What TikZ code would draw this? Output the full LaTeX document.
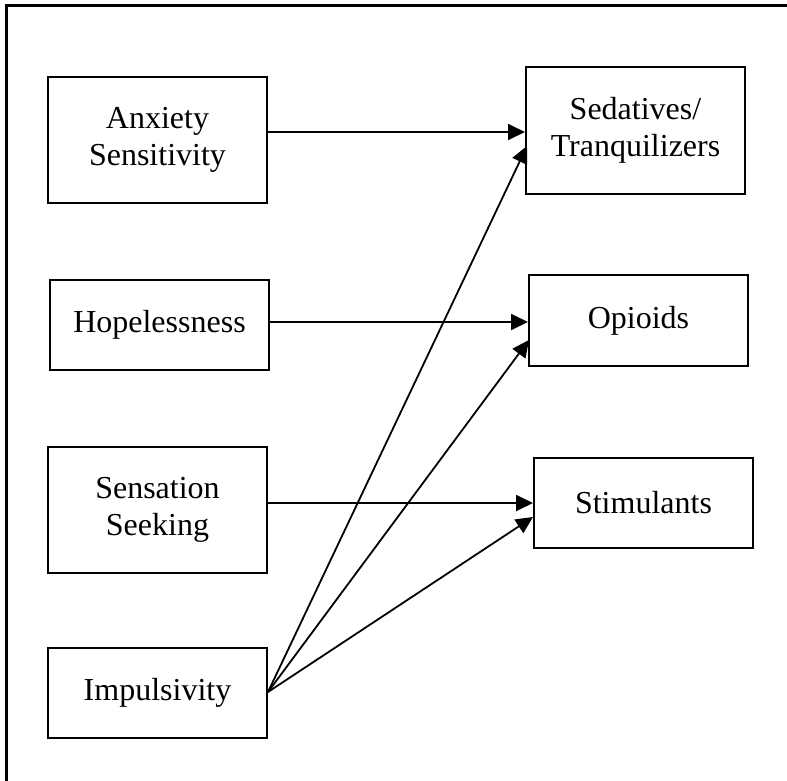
\documentclass[tikz,border=0pt]{standalone}
\usepackage{fontspec}
\setmainfont{Liberation Serif}
\usetikzlibrary{arrows.meta}
\begin{document}
\begin{tikzpicture}[x=1pt,y=-1pt,
  var/.style={draw, line width=2pt, rectangle, minimum width=219pt, inner sep=0pt,
    align=center, font=\fontsize{32}{37}\selectfont},
  link/.style={line width=1.8pt, -{Triangle[length=17pt,width=16pt]}}]
\useasboundingbox (0,0) rectangle (787,780);
% outer frame, running off the right and bottom edges
\draw[line width=3pt] (6,5) rectangle (800,800);

% predictors
\node[var, minimum height=126pt] (anx) at (157.5,140) {Anxiety\\Sensitivity};
\node[var, minimum height=90pt]  (hop) at (159.5,325) {Hopelessness};
\node[var, minimum height=126pt] (sen) at (157.5,510) {Sensation\\Seeking};
\node[var, minimum height=90pt]  (imp) at (157.5,693) {Impulsivity};

% substance classes
\node[var, minimum height=127pt] (sed) at (635.5,130.5) {Sedatives/\\Tranquilizers};
\node[var, minimum height=91pt]  (opi) at (638.5,320.5) {Opioids};
\node[var, minimum height=90pt]  (sti) at (643.5,503) {Stimulants};

% horizontal paths
\draw[link] (anx.east |- 0,132) -- (sed.west |- 0,132);
\draw[link] (hop.east |- 0,322) -- (opi.west |- 0,322);
\draw[link] (sen.east |- 0,503) -- (sti.west |- 0,503);

% impulsivity paths
\coordinate (impout) at (imp.east |- 0,692);
\draw[link] (impout) -- (527,146);
\draw[link] (impout) -- (529,340);
\draw[link] (impout) -- (533,517);
\end{tikzpicture}
\end{document}
